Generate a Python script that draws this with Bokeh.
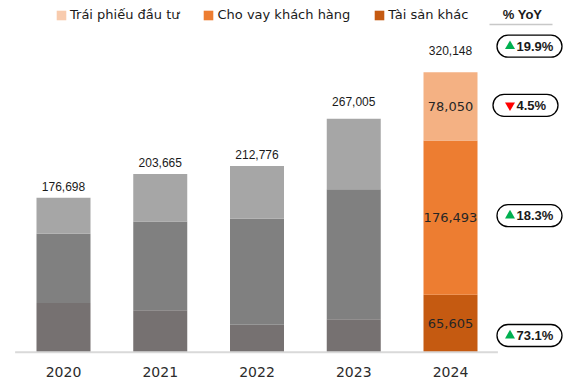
from bokeh.plotting import figure
from bokeh.models import Range1d, Legend, LegendItem, ColumnDataSource
from bokeh.core.properties import value
from bokeh.embed import file_html
from bokeh.resources import INLINE

# ---------------- data ----------------
years = ["2020", "2021", "2022", "2023", "2024"]
other_assets = [56370, 48020, 31330, 37805, 65605]      # Tài sản khác
customer_loans = [79168, 101445, 121186, 148600, 176493]  # Cho vay khách hàng
bond_invest = [41160, 54200, 60260, 80600, 78050]        # Trái phiếu đầu tư
totals = [176698, 203665, 212776, 267005, 320148]
yoy_values = [19.9, -4.5, 18.3, 73.1]   # total, bonds, loans, other (2024 vs 2023)
legend_labels = ["Trái phiếu đầu tư", "Cho vay khách hàng", "Tài sản khác"]

# ---------------- styles ----------------
gray_colors = ["#767171", "#808080", "#A6A6A6"]      # bottom, middle, top
orange_colors = ["#C55A11", "#ED7D31", "#F4B183"]
legend_colors = ["#F8CBAD", "#ED7D31", "#C55A11"]
W, H = 570, 386
STEP = 96.75                          # px between bar centres
X0 = -63.0 / STEP
X1 = X0 + W / STEP
BASE_PX = 351.7                       # baseline position from top of canvas
S = 280.0 / 320148                    # px per value unit
Y0 = -(H - BASE_PX) / S
Y1 = BASE_PX / S
label_dy = [-11, -12, -12, -17, -22]
badge_dy = [26, 1, 2, -12]
badge_dx = [0, -4, 0, 0]

def dx(px):
    return px / STEP

def dy(px):
    return px / S

p = figure(width=W, height=H, output_backend="svg", toolbar_location=None,
           x_range=Range1d(X0, X1), y_range=Range1d(Y0, Y1),
           min_border_left=0, min_border_right=0, min_border_top=0,
           min_border_bottom=0)
p.outline_line_color = None
p.grid.visible = False
p.xaxis.visible = False
p.yaxis.visible = False

xs = list(range(len(years)))
n = len(years)
bot0 = [0] * n
top0 = other_assets
top1 = [a + b for a, b in zip(other_assets, customer_loans)]
top2 = [a + b for a, b in zip(top1, bond_invest)]
layers = [(bot0, top0), (top0, top1), (top1, top2)]
bw = dx(54)
for li, (b, t) in enumerate(layers):
    cols = [gray_colors[li]] * (n - 1) + [orange_colors[li]]
    src = ColumnDataSource(dict(x=xs, bottom=b, top=t, color=cols))
    p.vbar(x="x", bottom="bottom", top="top", width=bw, fill_color="color",
           line_color=None, source=src)

# baseline
p.segment(x0=[-0.5], x1=[4.49], y0=[0], y1=[0], line_color="#D9D9D9", line_width=2)

# category labels (x axis)
p.text(x=xs, y=[-dy(20)] * n, text=years, text_align="center", text_baseline="middle",
       text_font=value("DejaVu Sans"), text_font_size="14px", text_color="#2b2b2b")

# total labels
p.text(x=xs, y=totals, text=[f"{v:,}" for v in totals], y_offset=label_dy,
       text_align="center", text_baseline="middle", text_font=value("Liberation Sans"),
       text_font_size="12px", text_color="#1a1a1a")

# 2024 segment labels
last = n - 1
seg_vals = [other_assets[last], customer_loans[last], bond_invest[last]]
seg_mid = [other_assets[last] / 2,
           other_assets[last] + customer_loans[last] / 2,
           top1[last] + bond_invest[last] / 2]
p.text(x=[last] * 3, y=seg_mid, text=[f"{v:,}" for v in seg_vals],
       text_align="center", text_baseline="middle", text_font=value("DejaVu Sans"),
       text_font_size="13px", text_color="#262626")

# YoY header
p.text(x=[last + dx(72)], y=[dy(BASE_PX - 14)], text=["% YoY"], text_align="center",
       text_baseline="middle", text_font=value("Liberation Sans"), text_font_style="bold",
       text_font_size="13px", text_color="#1a1a1a")
p.segment(x0=[last + dx(39)], x1=[last + dx(102)], y0=[dy(BASE_PX - 24)],
          y1=[dy(BASE_PX - 24)], line_color="#C8C8C8", line_width=1.5)

# YoY badges
badge_base = [totals[last], seg_mid[2], seg_mid[1], seg_mid[0]]
by = [b + dy(o) for b, o in zip(badge_base, badge_dy)]
bx = [last + dx(79 + o) for o in badge_dx]
p.rect(x=bx, y=by, width=65, height=22, width_units="screen", height_units="screen",
       fill_color="white", line_color="black", line_width=1.3, border_radius=11)
tri_marker = ["triangle" if v >= 0 else "inverted_triangle" for v in yoy_values]
tri_color = ["#00B050" if v >= 0 else "#FF0000" for v in yoy_values]
p.scatter(x=[last + dx(59.5)] * 4, y=by, marker=tri_marker, size=10,
          fill_color=tri_color, line_color=None)
p.text(x=[last + dx(66)] * 4, y=by, text=[f"{abs(v):.1f}%" for v in yoy_values],
       text_align="left", text_baseline="middle", text_font=value("Liberation Sans"),
       text_font_style="bold", text_font_size="13px", text_color="#1a1a1a")

# legend (proxy renderers placed outside the visible range)
items = []
for lab, col in zip(legend_labels, legend_colors):
    r = p.vbar(x=[-10], bottom=[0], top=[1], width=0.1, fill_color=col, line_color=None)
    items.append(LegendItem(label=lab, renderers=[r]))
leg = Legend(items=items, orientation="horizontal", location=(55, H - 22),
             glyph_width=12, glyph_height=12, label_height=12, label_standoff=3,
             spacing=23, padding=0, margin=0, border_line_color=None,
             background_fill_alpha=0, label_text_font="DejaVu Sans",
             label_text_font_size="13px", label_text_color="#1a1a1a")
p.add_layout(leg, "center")

open("out.html", "w").write(file_html(p, INLINE))
